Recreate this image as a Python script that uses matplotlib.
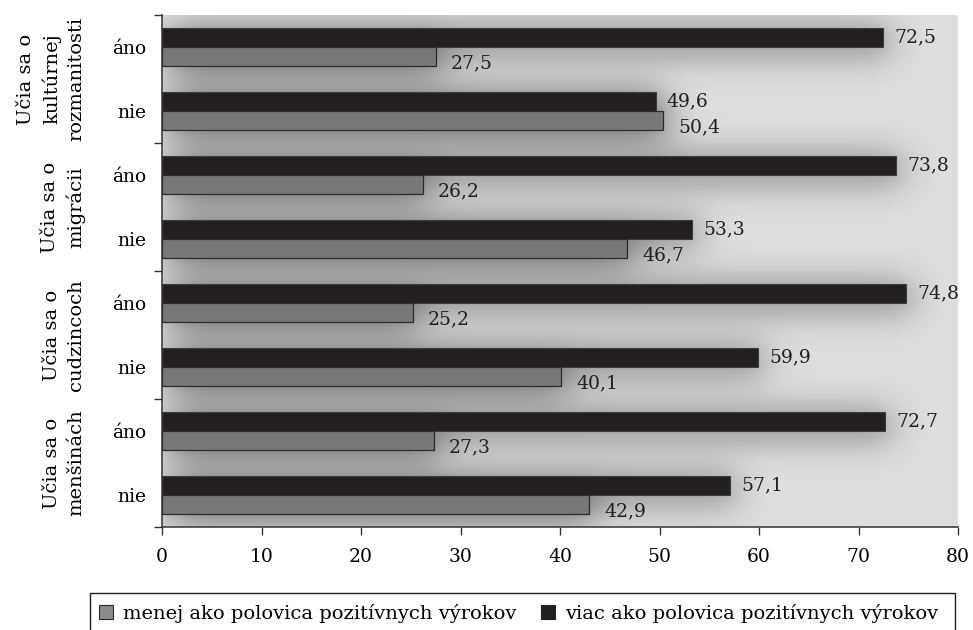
import matplotlib
matplotlib.use("Agg")
import matplotlib.pyplot as plt
import matplotlib.transforms as mtransforms
from matplotlib.patches import Patch, Rectangle
import numpy as np

plt.rcParams['font.family'] = ['DejaVu Serif']
plt.rcParams['font.size'] = 13.5

# data
groups = ["Učia sa o\nkultúrnej\nrozmanitosti", "Učia sa o\nmigrácii",
          "Učia sa o\ncudzincoch", "Učia sa o\nmenšinách"]
answers = ["áno", "nie"] * 4
more_than_half = [72.5, 49.6, 73.8, 53.3, 74.8, 59.9, 72.7, 57.1]
less_than_half = [27.5, 50.4, 26.2, 46.7, 25.2, 40.1, 27.3, 42.9]
series_names = ["menej ako polovica pozitívnych výrokov",
                "viac ako polovica pozitívnych výrokov"]

W, H = 973, 630
fig = plt.figure(figsize=(W / 100, H / 100), dpi=100)
ax_l, ax_t, ax_r, ax_b = 162, 15, 958, 527
ax = fig.add_axes([ax_l / W, 1 - ax_b / H, (ax_r - ax_l) / W, (ax_b - ax_t) / H])

rows = np.arange(len(answers))
bar_h = 0.3
x_max = 80

# soft drop shadow behind the bars, rendered as a blurred mask
nx, ny = ax_r - ax_l, ax_b - ax_t
px_per_row = ny / len(rows)
mask = np.zeros((ny, nx))
shift_x, shift_y = 7, 4
for i in rows:
    y0 = int(round((i - bar_h + 0.5) * px_per_row)) + shift_y
    y1 = int(round((i + bar_h + 0.5) * px_per_row)) + shift_y
    ymid = int(round((i + 0.5) * px_per_row)) + shift_y
    xa = int(round(more_than_half[i] / x_max * nx)) + shift_x
    xb = int(round(less_than_half[i] / x_max * nx)) + shift_x
    mask[max(y0, 0):min(ymid, ny), shift_x:min(xa, nx)] = 1
    mask[max(ymid, 0):min(y1, ny), shift_x:min(xb, nx)] = 1

def gauss_blur(a, sigma):
    r = int(3 * sigma)
    k = np.exp(-np.arange(-r, r + 1) ** 2 / (2 * sigma ** 2))
    k /= k.sum()
    a = np.apply_along_axis(lambda v: np.convolve(v, k, mode='same'), 1, a)
    a = np.apply_along_axis(lambda v: np.convolve(v, k, mode='same'), 0, a)
    return a

shadow = gauss_blur(mask, 18)
bg = 0.87 - 0.52 * shadow
ax.imshow(bg, cmap='gray', vmin=0, vmax=1, extent=(0, x_max, 7.5, -0.5),
          aspect='auto', zorder=0, interpolation='bilinear')

ax.barh(rows - bar_h / 2, more_than_half, height=bar_h, color='#231f20',
        edgecolor='#3c3c3c', linewidth=0.8, zorder=2)
ax.barh(rows + bar_h / 2, less_than_half, height=bar_h, color='#78787b',
        edgecolor='#2a2a2a', linewidth=0.9, zorder=2)

def fmt(v):
    return f"{v:.1f}".replace('.', ',')

for i in rows:
    ax.annotate(fmt(more_than_half[i]), (more_than_half[i], i - bar_h / 2),
                xytext=(8, 0), textcoords='offset points',
                ha='left', va='center', color='#231f20', zorder=3)
    ax.annotate(fmt(less_than_half[i]), (less_than_half[i], i + bar_h / 2),
                xytext=(11, -5), textcoords='offset points',
                ha='left', va='center', color='#231f20', zorder=3)

ax.set_xlim(0, x_max)
ax.set_ylim(7.5, -0.5)
ax.set_xticks(np.arange(0, x_max + 1, 10))
ax.set_yticks(np.arange(-0.5, 8, 2))
ax.set_yticklabels([])
ax.set_yticks(rows, minor=True)
ax.set_yticklabels(answers, minor=True)
ax.tick_params(axis='y', which='major', length=6, width=1, color='#333333', direction='out')
ax.tick_params(axis='y', which='minor', length=0, pad=11)
ax.tick_params(axis='x', length=6, width=1, color='#333333', direction='out', pad=9)

for side in ['top', 'right']:
    ax.spines[side].set_visible(False)
for side in ['left', 'bottom']:
    ax.spines[side].set_color('#333333')
    ax.spines[side].set_linewidth(1.1)
    ax.spines[side].set_zorder(4)

# rotated group titles left of the answer labels
trans = mtransforms.blended_transform_factory(ax.transAxes, ax.transData)
for g, name in enumerate(groups):
    ax.text((85 - ax_l) / nx, 2 * g + 0.5, name, transform=trans, rotation=90,
            ha='right', va='center', multialignment='center', linespacing=1.42,
            fontsize=14)

# legend box runs past the bottom edge of the figure
fig.patches.append(Rectangle((90 / W, -0.05), (955 - 90) / W, 1 - 593 / H + 0.05,
                             transform=fig.transFigure, facecolor='white',
                             edgecolor='#231f20', linewidth=1.0, zorder=0))
handles = [Patch(facecolor='#8a8a8c', edgecolor='#2a2a2a', linewidth=0.8),
           Patch(facecolor='#231f20', edgecolor='#231f20', linewidth=0.8)]
leg = fig.legend(handles, series_names, loc='upper left', ncol=2,
                 bbox_to_anchor=(99 / W, 1 - 604 / H),
                 borderaxespad=0, borderpad=0, frameon=False, fontsize=14,
                 handlelength=0.72, handleheight=0.72, handletextpad=0.5,
                 columnspacing=1.3)

fig.savefig("out.png", dpi=100)
